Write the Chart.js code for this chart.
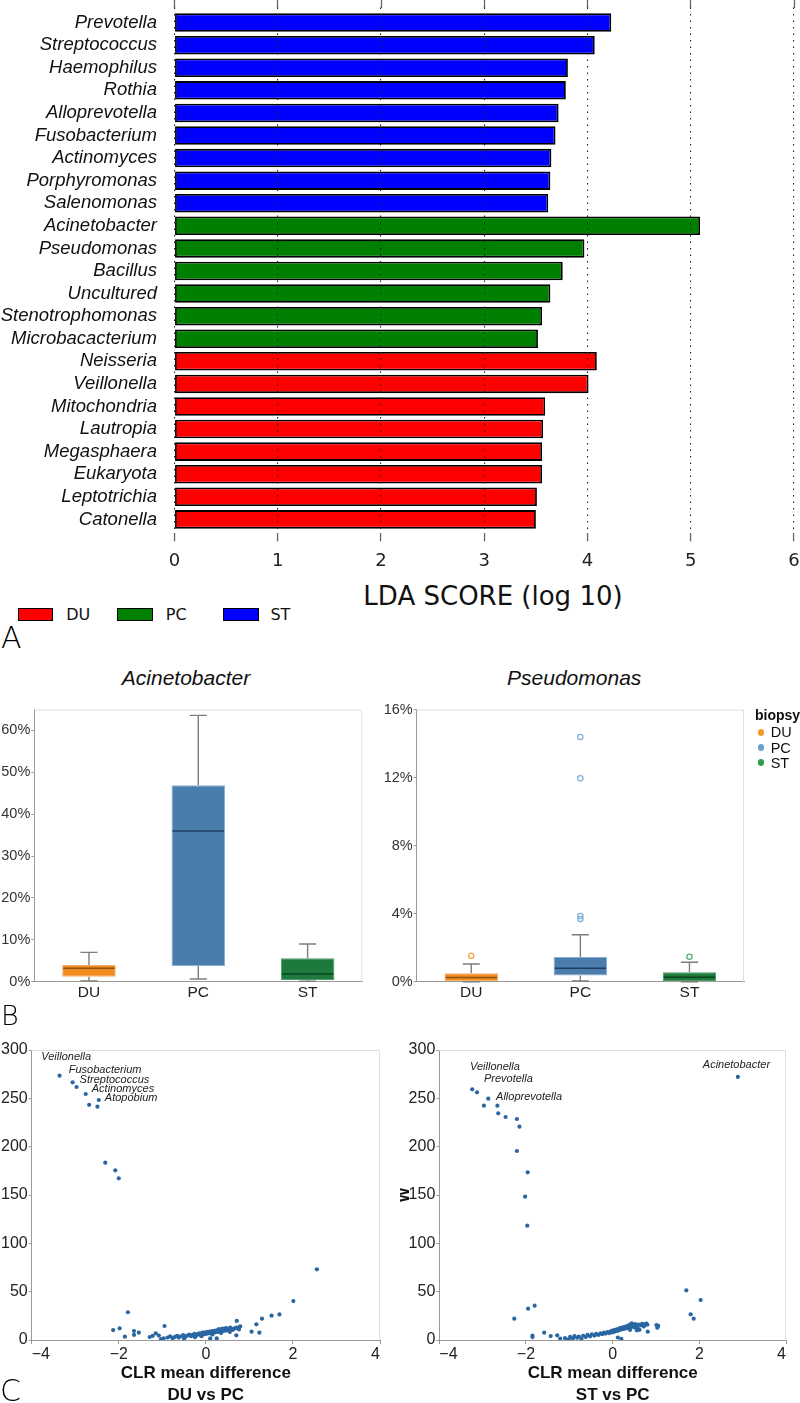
<!DOCTYPE html>
<html>
<head>
<meta charset="utf-8">
<title>LDA scores, boxplots and CLR volcano plots</title>
<script src="https://cdn.jsdelivr.net/npm/chart.js@4.4.1/dist/chart.umd.min.js"></script>
<style>
html,body{margin:0;padding:0;background:#fff;}
#page{position:relative;width:800px;height:1403px;overflow:hidden;background:#fff;}
#page canvas{position:absolute;display:block;}
.txt{position:absolute;white-space:nowrap;line-height:1;color:#111;font-family:"Liberation Sans",Arial,sans-serif;}
.vera{font-family:"DejaVu Sans","Liberation Sans",sans-serif;}
.panel{font-family:"DejaVu Sans",sans-serif;font-weight:200;color:#000;}
.sw{position:absolute;box-sizing:border-box;border:1.5px solid #000;}
.dot{position:absolute;border-radius:50%;}
</style>
</head>
<body>
<div id="page">
  <canvas id="cA" width="800" height="580" style="left:0;top:0;width:800px;height:580px"></canvas>
  <div class="txt vera" style="left:493px;top:583px;font-size:26px;transform:translateX(-50%);">LDA SCORE (log 10)</div>
  <div class="sw" style="left:18px;top:608px;width:35px;height:13px;background:#ff0000"></div>
  <div class="txt vera" style="left:66.3px;top:607.1px;font-size:16px;">DU</div>
  <div class="sw" style="left:116.5px;top:608px;width:36px;height:13px;background:#008000"></div>
  <div class="txt vera" style="left:165.8px;top:607.1px;font-size:16px;">PC</div>
  <div class="sw" style="left:223px;top:608px;width:36px;height:13px;background:#0000ff"></div>
  <div class="txt vera" style="left:270.4px;top:607.1px;font-size:16px;">ST</div>
  <div class="txt panel" style="left:1px;top:623px;font-size:30px;">A</div>

  <div class="txt" style="left:186px;top:666.7px;font-size:21px;font-style:italic;transform:translateX(-50%);">Acinetobacter</div>
  <div class="txt" style="left:574.2px;top:666.7px;font-size:21px;font-style:italic;transform:translateX(-50%);">Pseudomonas</div>
  <canvas id="cB1" width="380" height="310" style="left:0;top:700px;width:380px;height:310px"></canvas>
  <canvas id="cB2" width="420" height="310" style="left:380px;top:700px;width:420px;height:310px"></canvas>
  <div class="txt" style="left:755px;top:708.4px;font-size:14px;font-weight:bold;">biopsy</div>
  <div id="biopsyLegend"></div>
  <div class="txt panel" style="left:1px;top:1002px;font-size:27px;">B</div>

  <canvas id="cC1" width="400" height="370" style="left:0;top:1040px;width:400px;height:370px"></canvas>
  <canvas id="cC2" width="400" height="370" style="left:400px;top:1040px;width:400px;height:370px"></canvas>
  <div class="txt panel" style="left:0px;top:1375.6px;font-size:30px;">C</div>
</div>
<script>
// ---------------- Panel A data ----------------
const taxa = ['Prevotella','Streptococcus','Haemophilus','Rothia','Alloprevotella','Fusobacterium','Actinomyces','Porphyromonas','Salenomonas',
  'Acinetobacter','Pseudomonas','Bacillus','Uncultured','Stenotrophomonas','Microbacacterium',
  'Neisseria','Veillonella','Mitochondria','Lautropia','Megasphaera','Eukaryota','Leptotrichia','Catonella'];
const ldaGroup = ['ST','ST','ST','ST','ST','ST','ST','ST','ST','PC','PC','PC','PC','PC','PC','DU','DU','DU','DU','DU','DU','DU','DU'];
const ldaScore = [4.23,4.07,3.81,3.79,3.72,3.69,3.65,3.64,3.62, 5.09,3.97,3.76,3.64,3.56,3.52, 4.09,4.01,3.59,3.57,3.56,3.56,3.51,3.50];
const ldaTicks = [0,1,2,3,4,5,6];
const groupNames = ['DU','PC','ST'];
const groupColor = ['#ff0000','#008000','#0000ff'];

// ---------------- Panel B data (percent) ----------------
const boxCats = ['DU','PC','ST'];
const aciQ1  = [1.2, 3.75, 0.4];
const aciQ3  = [4.0, 46.9, 5.6];
const aciMed = [3.2, 36.0, 1.85];
const aciLo  = [0.2, 0.65, 0.1];
const aciHi  = [7.0, 63.6, 9.0];
const aciTicks = [0,10,20,30,40,50,60];
const psQ1  = [0.04, 0.37, 0.04];
const psQ3  = [0.49, 1.45, 0.55];
const psMed = [0.24, 0.79, 0.26];
const psLo  = [0.0, 0.04, 0.0];
const psHi  = [1.04, 2.76, 1.14];
const psOutCat = ['DU','PC','PC','PC','PC','ST'];
const psOutVal = [1.53, 14.38, 11.96, 3.86, 3.69, 1.47];
const psTicks = [0,4,8,12,16];
const boxFill    = ['#f28b1f','#4a7dab','#1b7a3c'];
const boxEdge    = ['#f6b068','#88aed1','#4f9a68'];
const boxMedian  = ['#8a5418','#1f3e62','#0b4421'];
const outColor   = ['#f5a449','#7fb1da','#4fb06d'];
const legendDot  = ['#f39a33','#6d9fcd','#2f9c4a'];

// ---------------- Panel C data (CLR mean difference, W) ----------------
const clrTicks = [-4,-2,0,2,4];
const wTicks = [0,50,100,150,200,250,300];
const duVsPc = [
 [-3.36,273.4],[-3.06,266.6],[-2.97,261.7],[-2.76,254.5],[-2.46,248.3],[-2.68,243.3],[-2.49,241.4],
 [-2.31,183.4],[-2.08,175.5],[-2.00,167.2],
 [2.55,73.1],[2.01,40.3],[1.69,26.5],[1.51,25.2],[1.29,22.1],[1.16,16.2],[1.05,8.6],[1.23,7.6],
 [0.71,19.7],[0.70,12.8],[0.77,13.4],[0.76,10.9],[0.70,4.8],[0.79,14.2],
 [-1.79,28.7],[-2.13,10.3],[-1.98,12.1],[-1.86,3.4],[-1.65,9.3],[-1.65,5.2],[-1.54,7.6],
 [-1.29,3.1],[-1.22,4.3],[-1.15,6.9],[-1.08,4.6],[-1.03,1.0],[-0.95,14.5],[-0.97,1.7],
 [-0.88,2.6],[-0.82,3.8],[-0.76,1.9],[-0.71,3.2],[-0.66,4.4],[-0.62,2.5],[-0.57,3.9],[-0.52,5.0],
 [-0.47,3.1],[-0.43,4.6],[-0.38,5.6],[-0.34,3.9],[-0.30,5.2],[-0.26,6.3],[-0.22,4.7],[-0.19,5.9],
 [-0.16,7.0],[-0.13,5.3],[-0.11,6.5],[-0.08,7.6],[-0.06,5.8],[-0.04,6.9],[-0.02,8.0],[0.00,6.3],
 [0.02,7.3],[0.04,8.4],[0.05,6.7],[0.07,7.8],[0.09,8.7],[0.10,1.6],[0.11,7.1],[0.13,8.2],[0.15,9.1],
 [0.16,7.5],[0.18,8.6],[0.20,9.5],[0.21,7.9],[0.23,9.0],[0.25,9.9],[0.25,1.7],[0.27,8.3],[0.29,9.4],
 [0.31,10.3],[0.33,8.8],[0.35,9.8],[0.37,10.7],[0.39,9.2],[0.41,10.2],[0.43,11.1],[0.45,9.6],
 [0.47,10.6],[0.50,11.5],[0.52,10.0],[0.55,11.0],[0.58,11.9],[0.61,10.4],[0.64,11.4],[0.67,12.2],
 [0.46,12.3],[0.38,11.9],[0.30,11.2],[0.56,12.9],[-0.25,2.9],[-0.50,1.4],[-0.10,3.9],[0.15,5.6],
 [0.35,7.2],[0.55,8.4]
];
const stVsPc = [
 [2.89,272.1],[-3.24,259.3],[-3.13,256.2],[-2.87,249.6],[-2.97,242.4],[-2.66,242.4],[-2.64,234.5],
 [-2.47,230.7],[-2.21,228.6],[-2.15,220.7],[-2.21,195.5],[-1.96,173.5],[-2.02,148.3],[-1.97,118.3],
 [1.70,51.4],[2.03,41.4],[1.80,26.6],[1.87,22.1],
 [-2.27,22.1],[-1.95,32.4],[-1.80,35.5],[-1.85,4.5],[-1.85,3.0],[-1.58,7.6],[-1.43,4.1],[-1.28,4.8],[-1.21,1.5],
 [1.01,15.5],[1.03,12.8],[0.81,8.6],[1.05,14.6],
 [-1.10,2.0],[-1.02,0.8],[-0.98,3.2],[-0.92,1.5],[-0.88,4.0],[-0.82,2.4],[-0.78,3.6],[-0.72,1.2],
 [-0.68,4.4],[-0.62,3.0],[-0.58,5.2],[-0.52,3.8],[-0.48,5.8],[-0.42,4.6],[-0.38,6.4],[-0.33,5.2],
 [-0.28,7.0],[-0.24,6.0],[-0.20,7.6],[-0.16,6.6],[-0.12,8.3],[-0.08,7.2],[-0.05,9.0],[-0.02,7.8],
 [0.00,9.6],[0.02,8.4],[0.04,10.2],[0.06,9.0],[0.08,10.8],[0.10,9.4],[0.12,11.4],[0.12,2.6],
 [0.14,10.0],[0.16,12.0],[0.18,10.6],[0.20,12.6],[0.20,1.2],[0.22,11.2],[0.24,13.0],[0.26,11.6],
 [0.28,13.6],[0.30,12.0],[0.32,14.2],[0.34,12.4],[0.36,15.0],[0.38,12.8],[0.40,16.0],[0.40,10.4],
 [0.42,13.4],[0.44,17.2],[0.46,14.0],[0.48,15.2],[0.50,13.0],[0.52,16.4],[0.55,14.6],[0.58,12.0],
 [0.60,16.0],[0.62,10.5],[0.65,15.2],[0.68,16.8],[0.72,14.0],[0.75,16.5],[0.78,17.0],[0.80,15.8],[0.56,10.0]
];
const duAnnText = ['Veillonella','Fusobacterium','Streptococcus','Actinomyces','Atopobium'];
const duAnnX = [-3.78,-3.15,-2.90,-2.62,-2.32];
const duAnnY = [292.7,279.3,269.0,259.6,250.3];
const stAnnText = ['Veillonella','Prevotella','Alloprevotella','Acinetobacter'];
const stAnnX = [-3.29,-2.97,-2.69,2.08];
const stAnnY = [282.4,270.0,251.4,284.5];

// ---------------- common ----------------
const SANS = '"Liberation Sans", Arial, Helvetica, sans-serif';
const VERA = '"DejaVu Sans", "Liberation Sans", sans-serif';
Chart.defaults.font.family = SANS;
Chart.defaults.color = '#222';
Chart.defaults.animation = false;
Chart.defaults.responsive = false;
Chart.defaults.maintainAspectRatio = false;
Chart.defaults.events = [];
Chart.defaults.plugins.legend.display = false;
Chart.defaults.plugins.tooltip.enabled = false;

function fit(w, h) {
  return s => {
    if (w != null) s.width = w;
    if (h != null) s.height = h;
    s.paddingLeft = 0; s.paddingRight = 0; s.paddingTop = 0; s.paddingBottom = 0;
  };
}
function setTicks(vals) { return s => { s.ticks = vals.map(v => ({value: v})); }; }
function framePath(ctx, a) {
  ctx.save();
  ctx.strokeStyle = '#e0e0e0'; ctx.lineWidth = 1;
  ctx.beginPath();
  ctx.moveTo(a.left, a.top + 0.5); ctx.lineTo(a.right - 0.5, a.top + 0.5); ctx.lineTo(a.right - 0.5, a.bottom);
  ctx.stroke();
  ctx.restore();
}

// ---------------- Panel A chart ----------------
new Chart(document.getElementById('cA'), {
  type: 'bar',
  data: { datasets: [{
    data: ldaScore.map((v, i) => ({x: v, y: i})),
    backgroundColor: ldaGroup.map(g => groupColor[groupNames.indexOf(g)]),
    borderColor: '#000', borderWidth: 1.8, borderSkipped: false,
    barPercentage: 0.82, categoryPercentage: 1
  }]},
  options: {
    indexAxis: 'y',
    layout: {padding: {top: 0, right: 6, bottom: 0, left: 0}},
    scales: {
      y: {type: 'linear', reverse: true, offset: false, min: -0.669, max: 22.617,
        afterBuildTicks: setTicks(taxa.map((t, i) => i)),
        afterFit: fit(174.5, null),
        grid: {display: false, drawTicks: false, offset: false}, border: {display: false},
        ticks: {autoSkip: false, padding: 17.5, color: '#111', font: {family: SANS, size: 18.5, style: 'italic'},
          callback: v => taxa[v]}},
      x: {type: 'linear', position: 'bottom', min: 0, max: 6,
        afterBuildTicks: setTicks(ldaTicks), afterFit: fit(null, 46.7),
        grid: {color: '#222', lineWidth: 1.1, z: 1, tickLength: 8, tickColor: '#666', tickWidth: 1.3, tickBorderDash: []},
        border: {display: false, dash: [1.5, 5]},
        ticks: {padding: 9, color: '#222', font: {family: VERA, size: 18}}},
      xTop: {axis: 'x', type: 'linear', position: 'top', min: 0, max: 6,
        afterBuildTicks: setTicks(ldaTicks), afterFit: fit(null, 7.5),
        grid: {drawOnChartArea: false, tickLength: 7.5, tickColor: '#666', tickWidth: 1.3},
        border: {display: false}, ticks: {display: false}}
    }
  }
});

// ---------------- Panel B charts ----------------
function boxChart(id, q1, q3, med, lo, hi, outCat, outVal, yMax, yTicks, yw, padRight) {
  const extras = {
    id: 'boxExtras',
    beforeDatasetsDraw(chart) {
      const {ctx, chartArea: a, scales: {x, y}} = chart;
      framePath(ctx, a);
      const bars = chart.getDatasetMeta(0).data;
      ctx.save();
      ctx.strokeStyle = '#7d7d7d'; ctx.lineWidth = 1.4;
      boxCats.forEach((c, i) => {
        const cx = x.getPixelForValue(i);
        const half = bars[i].width * 0.16;
        const yHi = y.getPixelForValue(hi[i]), yQ3 = y.getPixelForValue(q3[i]);
        const yQ1 = y.getPixelForValue(q1[i]), yLo = y.getPixelForValue(lo[i]);
        ctx.beginPath();
        ctx.moveTo(cx, yQ3); ctx.lineTo(cx, yHi);
        ctx.moveTo(cx - half, yHi); ctx.lineTo(cx + half, yHi);
        ctx.moveTo(cx, yQ1); ctx.lineTo(cx, yLo);
        ctx.moveTo(cx - half, yLo); ctx.lineTo(cx + half, yLo);
        ctx.stroke();
      });
      ctx.restore();
    },
    afterDatasetsDraw(chart) {
      const {ctx, scales: {y}} = chart;
      const bars = chart.getDatasetMeta(0).data;
      ctx.save();
      ctx.lineWidth = 1.5;
      boxCats.forEach((c, i) => {
        const b = bars[i], ym = y.getPixelForValue(med[i]);
        ctx.strokeStyle = boxMedian[i];
        ctx.beginPath(); ctx.moveTo(b.x - b.width / 2 + 1, ym); ctx.lineTo(b.x + b.width / 2 - 1, ym); ctx.stroke();
      });
      ctx.restore();
    }
  };
  const outliers = boxCats.map((c, ci) => ({
    type: 'line', showLine: false,
    data: outVal.map((v, k) => ({x: outCat[k], y: v})).filter(p => p.x === c),
    pointRadius: 2.6, pointBorderWidth: 1.3, pointBorderColor: outColor[ci],
    pointBackgroundColor: 'rgba(255,255,255,0)'
  }));
  return new Chart(document.getElementById(id), {
    type: 'bar',
    data: {labels: boxCats, datasets: [{
      type: 'bar', data: q1.map((v, i) => [v, q3[i]]),
      backgroundColor: boxFill, borderColor: boxEdge, borderWidth: 1, borderSkipped: false,
      barPercentage: 0.49, categoryPercentage: 1
    }].concat(outliers)},
    options: {
      layout: {padding: {top: 9.5, right: padRight, bottom: 0, left: 0}},
      scales: {
        x: {type: 'category', afterFit: fit(null, 28.3),
          grid: {display: true, drawOnChartArea: false, drawTicks: false},
          border: {color: '#9a9a9a', width: 1},
          ticks: {padding: 2, color: '#222', font: {size: 15.5}}},
        y: {type: 'linear', min: 0, max: yMax, afterBuildTicks: setTicks(yTicks), afterFit: fit(yw, null),
          grid: {drawOnChartArea: false, tickLength: 3, tickColor: '#9a9a9a'},
          border: {color: '#9a9a9a', width: 1},
          ticks: {padding: 1, color: '#333', font: {size: 14.5}, callback: v => v + '%'}}
      }
    },
    plugins: [extras]
  });
}
boxChart('cB1', aciQ1, aciQ3, aciMed, aciLo, aciHi, [], [], 65, aciTicks, 34.3, 17.7);
boxChart('cB2', psQ1, psQ3, psMed, psLo, psHi, psOutCat, psOutVal, 16, psTicks, 36.7, 56);

// biopsy legend
(function () {
  const host = document.getElementById('biopsyLegend');
  const ys = [732.3, 747.7, 762.7];
  boxCats.forEach((c, i) => {
    const d = document.createElement('div');
    d.className = 'dot';
    d.style.cssText = `left:${761 - 3.3}px;top:${ys[i] - 3.3}px;width:6.6px;height:6.6px;background:${legendDot[i]};`;
    host.appendChild(d);
    const t = document.createElement('div');
    t.className = 'txt';
    t.style.cssText = `left:770.7px;top:${ys[i] - 7.1}px;font-size:14.5px;color:#111;`;
    t.textContent = c;
    host.appendChild(t);
  });
})();

// ---------------- Panel C charts ----------------
function clrChart(id, pts, annText, annX, annY, subTitle, showW, yw, padRight) {
  const annot = {
    id: 'annot',
    beforeDatasetsDraw(chart) { framePath(chart.ctx, chart.chartArea); },
    afterDatasetsDraw(chart) {
      const {ctx, scales: {x, y}} = chart;
      ctx.save();
      ctx.font = 'italic 11px ' + SANS;
      ctx.fillStyle = '#222'; ctx.textAlign = 'left'; ctx.textBaseline = 'middle';
      annText.forEach((t, i) => ctx.fillText(t, x.getPixelForValue(annX[i]), y.getPixelForValue(annY[i])));
      ctx.restore();
    }
  };
  return new Chart(document.getElementById(id), {
    type: 'scatter',
    data: {datasets: [{
      data: pts.map(p => ({x: p[0], y: p[1]})),
      pointRadius: 2.1, pointBorderWidth: 0, backgroundColor: '#2a66a2', borderColor: '#2a66a2'
    }]},
    options: {
      layout: {padding: {top: 10, right: padRight, bottom: 0, left: 0}},
      scales: {
        x: {type: 'linear', min: -4, max: 4, afterBuildTicks: setTicks(clrTicks), afterFit: fit(null, 70),
          grid: {drawOnChartArea: false, tickLength: 4, tickColor: '#9a9a9a'},
          border: {color: '#9a9a9a', width: 1},
          ticks: {align: 'inner', padding: 1, color: '#222', font: {size: 16},
            callback: v => v < 0 ? '\u2212' + (-v) : '' + v},
          title: {display: true, text: ['CLR mean difference', subTitle], color: '#111',
            font: {size: 17, weight: 'bold', lineHeight: 1.3}, padding: {top: 0, bottom: 4}}},
        y: {type: 'linear', min: 0, max: 300, afterBuildTicks: setTicks(wTicks), afterFit: fit(yw, null),
          grid: {drawOnChartArea: false, tickLength: 3, tickColor: '#9a9a9a'},
          border: {color: '#9a9a9a', width: 1},
          ticks: {padding: 1, color: '#222', font: {size: 16}},
          title: {display: showW, text: 'W', color: '#111', font: {size: 16, weight: 'bold', lineHeight: 1},
            padding: {top: -3, bottom: 0}}}
      }
    },
    plugins: [annot]
  });
}
clrChart('cC1', duVsPc, duAnnText, duAnnX, duAnnY, 'DU vs PC', false, 31.7, 20);
clrChart('cC2', stVsPc, stAnnText, stAnnX, stAnnY, 'ST vs PC', true, 39.3, 14);
</script>
</body>
</html>
